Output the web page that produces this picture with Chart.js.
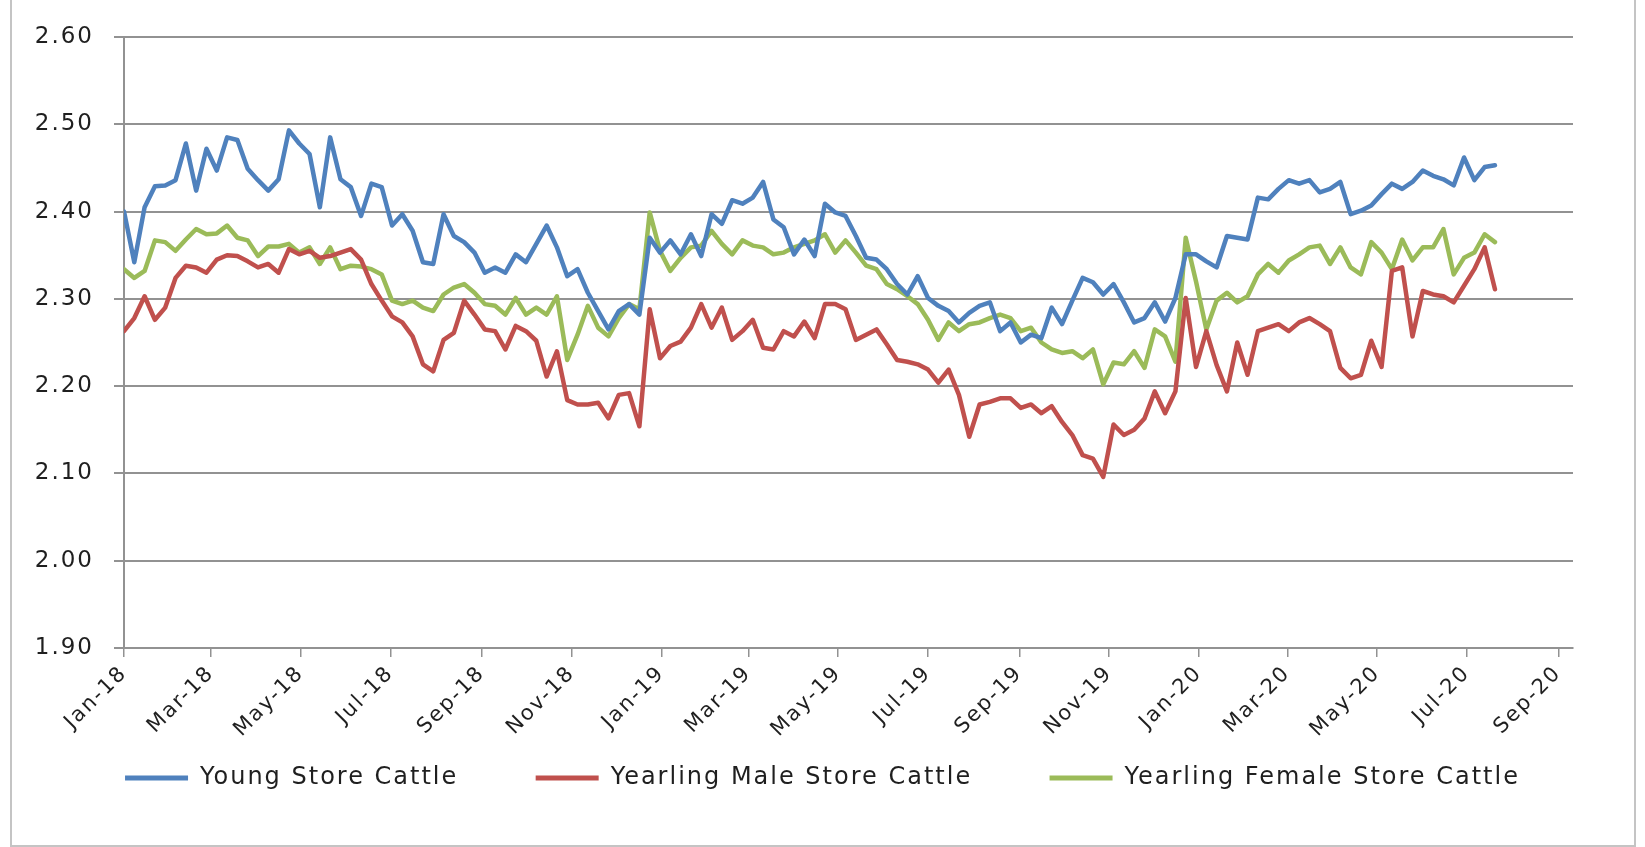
<!DOCTYPE html>
<html>
<head>
<meta charset="utf-8">
<script src="https://cdn.jsdelivr.net/npm/chart.js@4/dist/chart.umd.min.js"></script>
<style>
  html, body { margin: 0; padding: 0; background: #fff; overflow: hidden; }
  #wrap { width: 1645px; height: 847px; }
</style>
</head>
<body>
<div id="wrap"><canvas id="c" width="1645" height="847"></canvas></div>
<script>
// ---- data (weekly prices, first week starting 1 Jan 2018) ----
const firstWeek = '2018-01-01';
const weekStepDays = 7;
const axisEnd = '2020-09-11';

const seriesNames = ['Young Store Cattle', 'Yearling Male Store Cattle', 'Yearling Female Store Cattle'];

const youngStore = [
  2.400,2.342,2.405,2.429,2.430,2.436,2.478,2.424,2.472,2.447,2.485,2.482,2.449,2.436,2.424,2.437,
  2.493,2.478,2.466,2.405,2.485,2.437,2.428,2.395,2.432,2.428,2.384,2.397,2.378,2.342,2.340,2.397,
  2.372,2.365,2.353,2.330,2.336,2.330,2.351,2.342,2.363,2.384,2.359,2.326,2.334,2.307,2.286,2.265,
  2.286,2.294,2.282,2.370,2.353,2.367,2.351,2.374,2.349,2.397,2.386,2.413,2.409,2.416,2.434,2.391,
  2.382,2.351,2.368,2.349,2.409,2.399,2.395,2.372,2.347,2.345,2.334,2.317,2.305,2.326,2.301,2.292,
  2.286,2.273,2.284,2.292,2.296,2.263,2.273,2.250,2.259,2.255,2.290,2.271,2.298,2.324,2.319,2.305,
  2.317,2.296,2.273,2.278,2.296,2.274,2.301,2.351,2.351,2.343,2.336,2.372,2.370,2.368,2.416,2.414,
  2.426,2.436,2.432,2.436,2.422,2.426,2.434,2.397,2.401,2.407,2.420,2.432,2.426,2.434,2.447,2.441,
  2.437,2.430,2.462,2.436,2.451,2.453
];

const yearlingMale = [
  2.263,2.278,2.303,2.276,2.290,2.324,2.338,2.336,2.330,2.345,2.350,2.349,2.343,2.336,2.340,2.330,
  2.357,2.351,2.355,2.347,2.349,2.353,2.357,2.345,2.317,2.298,2.280,2.273,2.257,2.225,2.217,2.253,
  2.261,2.298,2.282,2.265,2.263,2.242,2.269,2.263,2.252,2.211,2.240,2.184,2.179,2.179,2.181,2.163,
  2.190,2.192,2.154,2.288,2.232,2.246,2.251,2.267,2.294,2.267,2.290,2.253,2.263,2.276,2.244,2.242,
  2.263,2.257,2.274,2.255,2.294,2.294,2.288,2.253,2.259,2.265,2.248,2.230,2.228,2.225,2.219,2.204,
  2.219,2.190,2.142,2.179,2.182,2.186,2.186,2.175,2.179,2.169,2.177,2.159,2.144,2.121,2.117,2.096,
  2.156,2.144,2.150,2.163,2.194,2.169,2.194,2.301,2.222,2.263,2.224,2.194,2.250,2.213,2.263,2.267,
  2.271,2.263,2.273,2.278,2.271,2.263,2.221,2.209,2.213,2.252,2.222,2.332,2.336,2.257,2.309,2.305,
  2.303,2.296,2.315,2.334,2.359,2.311
];

const yearlingFemale = [
  2.334,2.324,2.332,2.367,2.365,2.355,2.368,2.380,2.374,2.375,2.384,2.370,2.367,2.349,2.360,2.360,
  2.363,2.353,2.359,2.340,2.359,2.334,2.338,2.337,2.334,2.328,2.298,2.294,2.298,2.290,2.286,2.305,
  2.313,2.317,2.307,2.294,2.292,2.282,2.301,2.282,2.290,2.282,2.303,2.230,2.259,2.292,2.267,2.257,
  2.278,2.294,2.288,2.399,2.355,2.332,2.347,2.359,2.361,2.378,2.363,2.351,2.367,2.361,2.359,2.351,
  2.353,2.359,2.363,2.367,2.374,2.353,2.367,2.353,2.338,2.334,2.317,2.311,2.303,2.294,2.276,2.253,
  2.273,2.263,2.271,2.273,2.278,2.282,2.278,2.263,2.267,2.250,2.242,2.238,2.240,2.232,2.242,2.202,
  2.227,2.225,2.240,2.221,2.265,2.257,2.228,2.370,2.320,2.265,2.298,2.307,2.296,2.303,2.328,2.340,
  2.330,2.344,2.351,2.359,2.361,2.340,2.359,2.336,2.328,2.365,2.353,2.334,2.368,2.344,2.359,2.359,
  2.380,2.328,2.347,2.353,2.374,2.365
];

const tickDates = ['2018-01-01','2018-03-01','2018-05-01','2018-07-01','2018-09-01','2018-11-01',
  '2019-01-01','2019-03-01','2019-05-01','2019-07-01','2019-09-01','2019-11-01',
  '2020-01-01','2020-03-01','2020-05-01','2020-07-01','2020-09-01'];
const tickLabels = ['Jan-18','Mar-18','May-18','Jul-18','Sep-18','Nov-18',
  'Jan-19','Mar-19','May-19','Jul-19','Sep-19','Nov-19',
  'Jan-20','Mar-20','May-20','Jul-20','Sep-20'];

const yMin = 1.90, yMax = 2.60, yStep = 0.10;

// ---- helpers ----
const DAY = 86400000;
const dayOf = s => (Date.parse(s) - Date.parse(firstWeek)) / DAY;
const toPoints = arr => arr.map((v, i) => ({ x: i * weekStepDays, y: v }));
const tickDays = tickDates.map(dayOf);

const colors = ['#4F81BD', '#C0504D', '#9BBB59'];
const values = [youngStore, yearlingMale, yearlingFemale];

const FONT = '"DejaVu Sans", "Open Sans", sans-serif';
const GRID = '#929292';
const TEXT = '#1f1f1f';
const LETTER = '2px';
const ITEM_GAP = '\u00A0'.repeat(7);

const frame = {
  id: 'frame',
  beforeUpdate(chart) { chart.ctx.letterSpacing = LETTER; },
  beforeDraw(chart) {
    const ctx = chart.ctx;
    ctx.letterSpacing = LETTER;
    ctx.save();
    ctx.fillStyle = '#fff';
    ctx.fillRect(0, 0, chart.width, chart.height);
    ctx.strokeStyle = '#c4c4c4';
    ctx.lineWidth = 2;
    ctx.strokeRect(11, -5, 1624, 851);
    ctx.restore();
  }
};

new Chart(document.getElementById('c'), {
  type: 'line',
  data: {
    datasets: seriesNames.map((name, k) => ({
      label: name,
      data: toPoints(values[k]),
      borderColor: colors[k],
      backgroundColor: colors[k],
      borderWidth: 4.5,
      pointRadius: 0,
      pointHoverRadius: 0,
      tension: 0,
      fill: false,
      borderJoinStyle: 'round',
      borderCapStyle: 'round'
    }))
  },
  options: {
    responsive: false,
    animation: false,
    devicePixelRatio: 1,
    layout: { padding: { left: 0, right: 0, top: 37, bottom: 47 } },
    plugins: {
      tooltip: { enabled: false },
      legend: {
        position: 'bottom',
        labels: {
          boxWidth: 63,
          boxHeight: 5,
          padding: 10,
          color: TEXT,
          font: { family: FONT, size: 24 },
          generateLabels(chart) {
            const items = Chart.defaults.plugins.legend.labels.generateLabels(chart);
            items.forEach((it, i) => {
              it.lineWidth = 0;
              if (i < items.length - 1) it.text = it.text + ITEM_GAP;
            });
            return items;
          }
        }
      }
    },
    scales: {
      x: {
        type: 'linear',
        min: 0,
        max: dayOf(axisEnd),
        afterBuildTicks: s => { s.ticks = tickDays.map(v => ({ value: v })); },
        afterFit: s => { s.height = 108; },
        grid: { display: true, drawOnChartArea: false, drawTicks: true, tickLength: 9, color: GRID, lineWidth: 1.5 },
        border: { display: true, color: GRID, width: 2 },
        ticks: {
          autoSkip: false,
          maxRotation: 45,
          minRotation: 45,
          padding: 4,
          color: TEXT,
          font: { family: FONT, size: 21 },
          callback: v => tickLabels[tickDays.indexOf(v)]
        }
      },
      y: {
        min: yMin,
        max: yMax,
        afterFit: s => { s.width = 124; },
        grid: { color: GRID, lineWidth: 2, drawTicks: true, tickLength: 10 },
        border: { display: true, color: GRID, width: 2 },
        ticks: {
          stepSize: yStep,
          padding: 20,
          color: TEXT,
          font: { family: FONT, size: 23 },
          callback: v => Number(v).toFixed(2)
        }
      },
      rightGap: {
        position: 'right',
        min: yMin,
        max: yMax,
        afterFit: s => { s.width = 72; },
        grid: { display: false },
        border: { display: false },
        ticks: { display: false }
      }
    }
  },
  plugins: [frame]
});
</script>
</body>
</html>
